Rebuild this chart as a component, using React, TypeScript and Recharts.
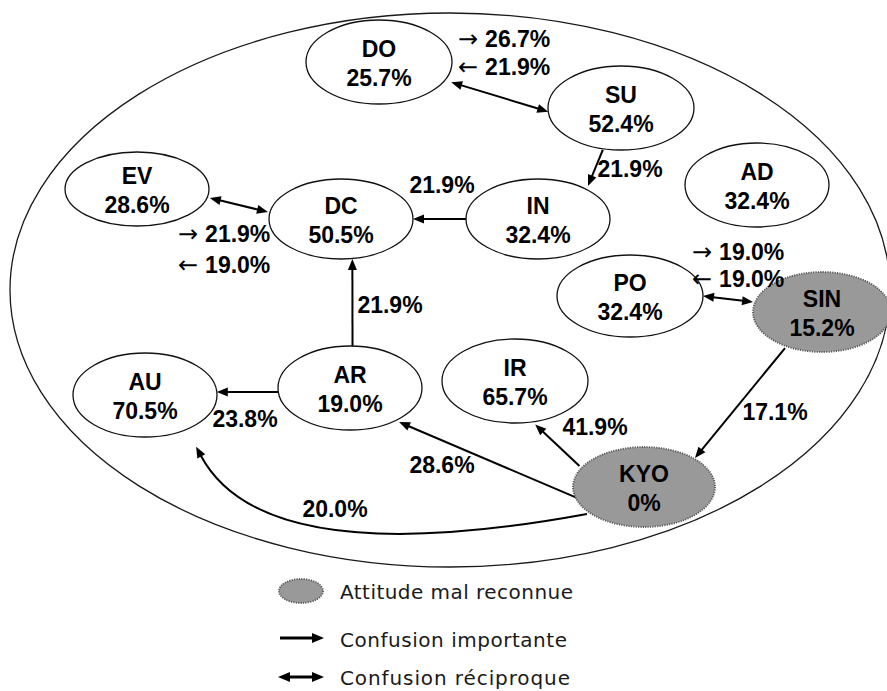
import React from 'react';
import { ScatterChart, Scatter, XAxis, YAxis, ReferenceLine, ReferenceArea, Legend } from 'recharts';

// ---------- data ----------
const NODE_NAMES = ['DO', 'SU', 'EV', 'DC', 'IN', 'AD', 'PO', 'SIN', 'AU', 'AR', 'IR', 'KYO'];
const NODE_RATES = [25.7, 52.4, 28.6, 50.5, 32.4, 32.4, 32.4, 15.2, 70.5, 19.0, 65.7, 0];
const MISRECOGNIZED = ['SIN', 'KYO'];

const EDGE_FROM = ['DO', 'SU', 'IN', 'EV', 'AR', 'AR', 'KYO', 'KYO', 'SIN', 'PO', 'KYO'];
const EDGE_TO = ['SU', 'IN', 'DC', 'DC', 'DC', 'AU', 'AR', 'IR', 'KYO', 'SIN', 'AU'];
const EDGE_RECIPROCAL = [true, false, false, true, false, false, false, false, false, true, false];
const EDGE_RATE_FWD = [26.7, 21.9, 21.9, 21.9, 21.9, 23.8, 28.6, 41.9, 17.1, 19.0, 20.0];
const EDGE_RATE_BACK: (number | null)[] = [21.9, null, null, 19.0, null, null, null, null, null, 19.0, null];

const LEGEND_LABELS = ['Attitude mal reconnue', 'Confusion importante', 'Confusion réciproque'];

// ---------- layout ----------
const W = 887;
const H = 691;
const LEGEND_H = 121;
const PLOT_H = H - LEGEND_H;

const NODE_X = [379, 621, 137, 341, 538, 757, 630, 822, 145, 350, 515, 644];
const NODE_Y = [62, 108, 189, 219, 219, 185, 296, 312, 395, 388, 381, 487];
const NODE_RX = [73, 73, 72, 72, 72, 72, 73, 69, 72, 72, 73, 71];
const NODE_RY = [42, 42, 37, 40, 40, 42, 41, 40, 42, 42, 42, 40];

const EDGE_FROM_ANGLE = [26, 104, 180, 13.5, -88, 174.6, 163, -150, 120.7, 0, 140];
const EDGE_FROM_K = [1.1, 1.03, 1, 1.04, 1, 1, 0.97, 1.05, 1.05, 1, 1.05];
const EDGE_TO_ANGLE = [175, -50, 0, 189.8, 81, -4, 50, 75, -45.3, 194, 60];
const EDGE_TO_K = [1, 1.08, 1, 1.03, 1.01, 1, 1.06, 1.07, 1.02, 1.03, 1.42];
const EDGE_BEND: (number[] | null)[] = [null, null, null, null, null, null, null, null, null, null, [0.4, -0.147, 0.82, -0.233]];

const EDGE_LABEL_X = [458, 630, 442, 178, 390, 245, 442, 595, 775, 692, 335];
const EDGE_LABEL_Y = [47, 177, 193, 242, 313, 427, 473, 435, 420, 260, 517];
const EDGE_LABEL_Y2: (number | null)[] = [75, null, null, 273, null, null, null, null, null, 287, null];

const FRAME = { x1: 10, x2: 890, y1: 13, y2: 567 };

const FONT = "'Liberation Sans', Arial, sans-serif";
const ARROW_FONT = "'DejaVu Sans', sans-serif";

const fmt = (v: number) => (v === 0 ? '0%' : v.toFixed(1) + '%');

const nodeData = NODE_NAMES.map((name, i) => ({
  x: NODE_X[i],
  y: NODE_Y[i],
  name,
  rate: NODE_RATES[i],
  rx: NODE_RX[i],
  ry: NODE_RY[i],
  grey: MISRECOGNIZED.includes(name),
}));

function anchorPoint(name: string, angleDeg: number, k: number) {
  const i = NODE_NAMES.indexOf(name);
  const t = (angleDeg * Math.PI) / 180;
  return { x: NODE_X[i] + k * NODE_RX[i] * Math.cos(t), y: NODE_Y[i] + k * NODE_RY[i] * Math.sin(t) };
}

const edgeData = EDGE_FROM.map((from, i) => ({
  p1: anchorPoint(from, EDGE_FROM_ANGLE[i], EDGE_FROM_K[i]),
  p2: anchorPoint(EDGE_TO[i], EDGE_TO_ANGLE[i], EDGE_TO_K[i]),
  both: EDGE_RECIPROCAL[i],
  bend: EDGE_BEND[i],
}));

const labelData: { x: number; y: number; arrow: string; text: string; anchor: string }[] = [];
EDGE_FROM.forEach((_, i) => {
  if (EDGE_RECIPROCAL[i]) {
    labelData.push({ x: EDGE_LABEL_X[i], y: EDGE_LABEL_Y[i], arrow: '\u2192', text: fmt(EDGE_RATE_FWD[i]), anchor: 'start' });
    labelData.push({ x: EDGE_LABEL_X[i], y: EDGE_LABEL_Y2[i] as number, arrow: '\u2190', text: fmt(EDGE_RATE_BACK[i] as number), anchor: 'start' });
  } else {
    labelData.push({ x: EDGE_LABEL_X[i], y: EDGE_LABEL_Y[i], arrow: '', text: fmt(EDGE_RATE_FWD[i]), anchor: 'middle' });
  }
});

// ---------- shapes ----------
const HEAD_L = 11;
const HEAD_W = 4.5;

function head(tx: number, ty: number, dx: number, dy: number, l = HEAD_L, w = HEAD_W) {
  const L = Math.hypot(dx, dy) || 1;
  const ux = dx / L;
  const uy = dy / L;
  const bx = tx - ux * l;
  const by = ty - uy * l;
  const nx = -uy;
  const ny = ux;
  return `${tx},${ty} ${bx + nx * w},${by + ny * w} ${bx - nx * w},${by - ny * w}`;
}

const ArrowShape = (props: any) => {
  const { x1, y1, x2, y2, both, bend } = props;
  if (bend) {
    const dx = x2 - x1;
    const dy = y2 - y1;
    const L = Math.hypot(dx, dy);
    const nx = -dy / L;
    const ny = dx / L;
    const c1x = x1 + bend[0] * dx + bend[1] * L * nx;
    const c1y = y1 + bend[0] * dy + bend[1] * L * ny;
    const c2x = x1 + bend[2] * dx + bend[3] * L * nx;
    const c2y = y1 + bend[2] * dy + bend[3] * L * ny;
    const tdx = x2 - c2x;
    const tdy = y2 - c2y;
    const tl = Math.hypot(tdx, tdy);
    const ex = x2 - (tdx / tl) * (HEAD_L - 1);
    const ey = y2 - (tdy / tl) * (HEAD_L - 1);
    return (
      <g>
        <path d={`M${x1},${y1} C${c1x},${c1y} ${c2x},${c2y} ${ex},${ey}`} fill="none" stroke="#000" strokeWidth={2} />
        <polygon points={head(x2, y2, tdx, tdy)} fill="#000" />
      </g>
    );
  }
  const dx = x2 - x1;
  const dy = y2 - y1;
  const L = Math.hypot(dx, dy);
  const ux = dx / L;
  const uy = dy / L;
  const sx = both ? x1 + ux * (HEAD_L - 1) : x1;
  const sy = both ? y1 + uy * (HEAD_L - 1) : y1;
  const ex = x2 - ux * (HEAD_L - 1);
  const ey = y2 - uy * (HEAD_L - 1);
  return (
    <g>
      <line x1={sx} y1={sy} x2={ex} y2={ey} stroke="#000" strokeWidth={2} />
      <polygon points={head(x2, y2, dx, dy)} fill="#000" />
      {both && <polygon points={head(x1, y1, -dx, -dy)} fill="#000" />}
    </g>
  );
};

const FrameShape = (props: any) => {
  const { x, y, width, height } = props;
  return (
    <ellipse cx={x + width / 2} cy={y + height / 2} rx={width / 2} ry={height / 2} fill="none" stroke="#1a1a1a" strokeWidth={1.3} />
  );
};

const NodeShape = (props: any) => {
  const { cx, cy, payload } = props;
  const grey = payload.grey;
  return (
    <g>
      <ellipse
        cx={cx}
        cy={cy}
        rx={payload.rx}
        ry={payload.ry}
        fill={grey ? '#999999' : '#ffffff'}
        stroke={grey ? '#555555' : '#111111'}
        strokeWidth={grey ? 1.8 : 1.3}
        strokeDasharray={grey ? '1.2 1.2' : undefined}
      />
      <text x={cx} y={cy - 5} textAnchor="middle" fontFamily={FONT} fontWeight="bold" fontSize={23} fill="#000">
        {payload.name}
      </text>
      <text x={cx} y={cy + 24} textAnchor="middle" fontFamily={FONT} fontWeight="bold" fontSize={23} fill="#000">
        {fmt(payload.rate)}
      </text>
    </g>
  );
};

const LabelShape = (props: any) => {
  const { cx, cy, payload } = props;
  return (
    <text x={cx} y={cy} textAnchor={payload.anchor} fontFamily={FONT} fontWeight="bold" fontSize={23} fill="#000">
      {payload.arrow ? (
        <tspan fontFamily={ARROW_FONT} fontWeight="normal" fontSize={24}>
          {payload.arrow}
        </tspan>
      ) : null}
      {payload.arrow ? <tspan dx={7}>{payload.text}</tspan> : payload.text}
    </text>
  );
};

const LegendContent = () => {
  const tFont = "'DejaVu Sans', Verdana, sans-serif";
  return (
    <svg width={W} height={LEGEND_H} style={{ display: 'block' }}>
      <ellipse cx={301} cy={21} rx={22} ry={12} fill="#999999" stroke="#555555" strokeWidth={1.8} strokeDasharray="1.2 1.2" />
      <text x={340} y={29} fontFamily={tFont} fontSize={20} fill="#1a1a1a" textLength={233} lengthAdjust="spacing">
        {LEGEND_LABELS[0]}
      </text>
      <line x1={280} y1={68} x2={312} y2={68} stroke="#000" strokeWidth={3} />
      <polygon points={head(324, 68, 1, 0, 12, 5)} fill="#000" />
      <text x={340} y={77} fontFamily={tFont} fontSize={20} fill="#1a1a1a" textLength={227} lengthAdjust="spacing">
        {LEGEND_LABELS[1]}
      </text>
      <line x1={290} y1={107} x2={312} y2={107} stroke="#000" strokeWidth={3} />
      <polygon points={head(324, 107, 1, 0, 12, 5)} fill="#000" />
      <polygon points={head(278, 107, -1, 0, 12, 5)} fill="#000" />
      <text x={340} y={115} fontFamily={tFont} fontSize={20} fill="#1a1a1a" textLength={230} lengthAdjust="spacing">
        {LEGEND_LABELS[2]}
      </text>
    </svg>
  );
};

export default function App() {
  return (
    <div style={{ position: 'absolute', left: 0, top: 0, background: '#fff' }}>
      <ScatterChart width={W} height={H} margin={{ top: 0, right: 0, bottom: 0, left: 0 }}>
        <XAxis type="number" dataKey="x" domain={[0, W]} hide allowDataOverflow />
        <YAxis type="number" dataKey="y" domain={[0, PLOT_H]} reversed hide allowDataOverflow />
        <ReferenceArea x1={FRAME.x1} x2={FRAME.x2} y1={FRAME.y1} y2={FRAME.y2} ifOverflow="visible" shape={FrameShape} />
        {edgeData.map((e, i) => (
          <ReferenceLine
            key={i}
            segment={[{ x: e.p1.x, y: e.p1.y }, { x: e.p2.x, y: e.p2.y }]}
            ifOverflow="visible"
            shape={(p: any) => <ArrowShape {...p} both={e.both} bend={e.bend} />}
          />
        ))}
        <Scatter data={nodeData} shape={NodeShape} isAnimationActive={false} />
        <Scatter data={labelData} shape={LabelShape} isAnimationActive={false} />
        <Legend verticalAlign="bottom" content={LegendContent} wrapperStyle={{ left: 0, bottom: 0, margin: 0, padding: 0 }} />
      </ScatterChart>
    </div>
  );
}
